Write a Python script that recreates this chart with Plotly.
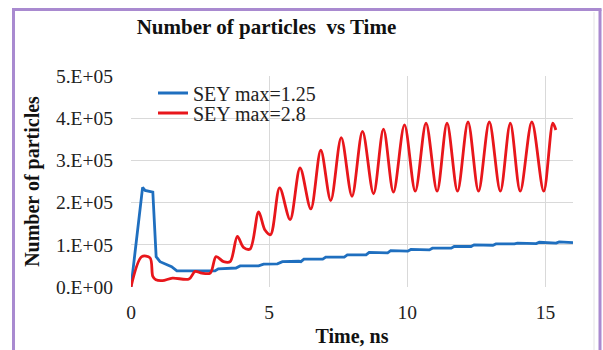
import plotly.graph_objects as go

# ---- data ----
blue_name = "SEY max=1.25"
blue_x = [0, 0.42, 0.51, 0.79, 0.91, 1.05, 1.47, 1.66, 3.04, 3.16, 3.8, 3.95, 4.62, 4.8,
          5.3, 5.48, 6.08, 6.15, 6.26, 6.87, 6.94, 7.05, 7.65, 7.72, 7.83, 8.44, 8.51, 8.62,
          9.22, 9.29, 9.4, 9.95, 10.02, 10.13, 10.73, 10.8, 10.91, 11.52, 11.59, 11.7,
          12.24, 12.31, 12.42, 13.03, 13.1, 13.21, 13.81, 13.88, 13.99, 14.6, 14.67, 14.78,
          15.32, 15.39, 15.5, 16.0]
blue_y = [0, 2.36, 2.29, 2.25, 0.72, 0.6, 0.48, 0.38, 0.38, 0.43, 0.45, 0.5, 0.5, 0.54,
          0.55, 0.6, 0.61, 0.6, 0.66, 0.67, 0.66, 0.71, 0.72, 0.71, 0.76, 0.77, 0.76, 0.82,
          0.82, 0.81, 0.86, 0.86, 0.85, 0.89, 0.89, 0.88, 0.92, 0.93, 0.92, 0.96,
          0.97, 0.96, 1.0, 1.0, 0.99, 1.02, 1.03, 1.02, 1.04, 1.04, 1.03, 1.06,
          1.05, 1.04, 1.07, 1.05]  # x 1e5

red_name = "SEY max=2.8"
red_x = [0, 0.39, 0.69, 0.79, 0.9, 1.14, 1.5, 2.1, 2.32, 2.56, 2.87, 3.08, 3.35, 3.59,
         3.85, 4.07, 4.31, 4.62, 4.85, 5.05, 5.38, 5.76, 6.12, 6.51, 6.87, 7.23, 7.61,
         8.0, 8.38, 8.78, 9.14, 9.5, 9.9, 10.29, 10.68, 11.08, 11.44, 11.82, 12.2, 12.58,
         12.97, 13.37, 13.73, 14.09, 14.51, 14.94, 15.27, 15.38]
red_y = [0, 0.72, 0.69, 0.25, 0.17, 0.15, 0.21, 0.19, 0.37, 0.33, 0.33, 0.72, 0.6, 0.6,
         1.2, 0.94, 0.9, 1.78, 1.35, 1.24, 2.35, 1.6, 2.82, 1.85, 3.24, 2.05, 3.54,
         2.15, 3.69, 2.21, 3.74, 2.25, 3.84, 2.27, 3.88, 2.27, 3.88, 2.27, 3.91, 2.27,
         3.91, 2.27, 3.88, 2.27, 3.91, 2.27, 3.88, 3.72]  # x 1e5

y_tick_vals = [0, 1e5, 2e5, 3e5, 4e5, 5e5]
y_tick_text = ["0.E+00", "1.E+05", "2.E+05", "3.E+05", "4.E+05", "5.E+05"]
x_tick_vals = [0, 5, 10, 15]

title_text = "<b>Number of particles  vs Time</b>"
x_title = "<b>Time, ns</b>"
y_title = "<b>Number of particles</b>"

SERIF = "Liberation Serif"
BLUE = "#1f6fbf"
RED = "#e8161b"
GRID = "#d9d9d9"
FRAME = "#a98ad0"

fig = go.Figure()
fig.add_trace(go.Scatter(x=blue_x, y=[v * 1e5 for v in blue_y], mode="lines",
                         name=blue_name, line=dict(color=BLUE, width=2.8),
                         showlegend=True, legend="legend"))
fig.add_trace(go.Scatter(x=red_x, y=[v * 1e5 for v in red_y], mode="lines",
                         name=red_name, line=dict(color=RED, width=2.8, shape="spline",
                                                  smoothing=0.9),
                         showlegend=True, legend="legend2"))

L, R, T, B = 131, 30, 76, 63
W, H = 603, 350
pw, ph = W - L - R, H - T - B


def px_x(p):
    return (p - L) / pw


def px_y(p):
    return (H - B - p) / ph


leg_common = dict(bgcolor="rgba(0,0,0,0)", borderwidth=0, visible=True,
                  font=dict(family=SERIF, size=20, color="#222"),
                  xanchor="left", yanchor="middle")

fig.update_layout(
    width=W, height=H,
    showlegend=True,
    margin=dict(l=L, r=R, t=T, b=B, autoexpand=False),
    font=dict(family=SERIF, color="#222"),
    paper_bgcolor="white", plot_bgcolor="white",
    title=dict(text=title_text, x=266.5 / W, xref="container", xanchor="center",
               y=1 - 27 / H, yref="container", yanchor="middle",
               font=dict(family=SERIF, size=21, color="#111")),
    legend=dict(x=px_x(153), y=px_y(93), **leg_common),
    legend2=dict(x=px_x(153), y=px_y(113), **leg_common),
    xaxis=dict(range=[0, 16], tickvals=x_tick_vals, showgrid=True, gridcolor=GRID,
               gridwidth=1, zeroline=False, showline=False, ticks="",
               ticklabelstandoff=11, automargin=False,
               tickfont=dict(family=SERIF, size=19.5, color="#222"),
               title=dict(text=x_title, standoff=7,
                          font=dict(family=SERIF, size=20, color="#111"))),
    yaxis=dict(range=[0, 5e5], tickvals=y_tick_vals, ticktext=y_tick_text,
               showgrid=True, gridcolor=GRID, gridwidth=1, zeroline=False,
               showline=False, ticks="", ticklabelstandoff=17, automargin=False,
               tickfont=dict(family=SERIF, size=19.5, color="#222"),
               title=dict(text=y_title, standoff=10,
                          font=dict(family=SERIF, size=20, color="#111"))),
)

# outer frame (purple) and faint inner border
fig.add_shape(type="line", xref="paper", yref="paper", x0=px_x(13.5), x1=px_x(13.5),
              y0=px_y(9.5), y1=px_y(352), line=dict(color=FRAME, width=3))
fig.add_shape(type="line", xref="paper", yref="paper", x0=px_x(12), x1=px_x(601.5),
              y0=px_y(9.5), y1=px_y(9.5), line=dict(color=FRAME, width=3))
fig.add_shape(type="line", xref="paper", yref="paper", x0=px_x(600), x1=px_x(600),
              y0=px_y(9.5), y1=px_y(352), line=dict(color=FRAME, width=3))
fig.add_shape(type="line", xref="paper", yref="paper", x0=px_x(594), x1=px_x(594),
              y0=px_y(12), y1=px_y(352), line=dict(color="#e4e4e4", width=1))

fig.write_html("out.html")
